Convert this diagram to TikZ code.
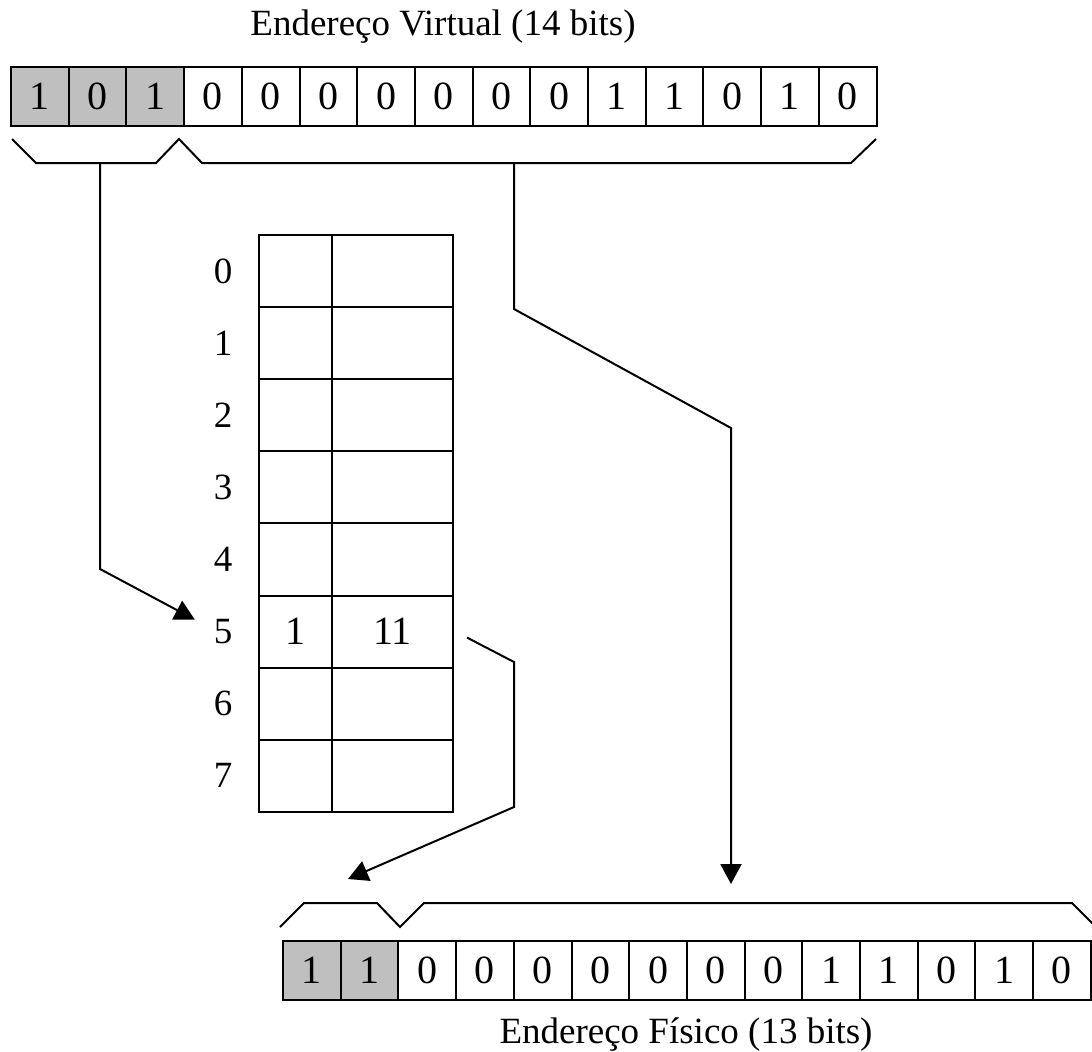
\documentclass[tikz,border=0pt]{standalone}
\usepackage{fontspec}
\setmainfont{Liberation Serif}
\usetikzlibrary{arrows.meta, calc}

\begin{document}
\begin{tikzpicture}[
    x=0.5pt, y=-0.5pt,
    line width=1pt,
    bit/.style={draw, minimum width=28.85pt, minimum height=29.5pt, inner sep=0pt, font=\fontsize{20}{24}\selectfont},
    index/.style={fill=black!25},
    entry/.style={draw, minimum height=36.05pt, inner sep=0pt, font=\fontsize{20}{24}\selectfont},
    rowlabel/.style={inner sep=3pt, font=\fontsize{18.5}{22}\selectfont},
    caption/.style={anchor=base, font=\fontsize{18.5}{22}\selectfont},
    brace/.style={line width=1pt},
    link/.style={line width=1pt, -{Triangle[length=10pt, width=10.5pt]}}
]
\useasboundingbox (0,0) rectangle (1092,1051);

% Endereço virtual (página em cinza)
\node[caption] (vtitle) at (443,35) {Endereço Virtual (14 bits)};
\foreach \b [count=\i] in {1,0,1}
    \node[bit, index] (v\i) at ({11+57.7*(\i-0.5)}, 96.5) {\b};
\foreach \b [count=\i from 4] in {0,0,0,0,0,0,0,1,1,0,1,0}
    \node[bit] (v\i) at ({11+57.7*(\i-0.5)}, 96.5) {\b};

% Chaveta por baixo do endereço virtual
\draw[brace] (12,139) -- (36,163) -- (156,163) -- (179,139) -- (202,163) -- (851,163) -- (876,139);
\coordinate (vpn) at (100,163);
\coordinate (off) at (514,163);

% Tabela de páginas
\foreach \k in {0,1,2,3,4,6,7} {
    \node[rowlabel] (lbl\k) at (223, {235+72.1*(\k+0.5)}) {\k};
    \node[entry, minimum width=36.5pt] (p\k) at (295.5, {235+72.1*(\k+0.5)}) {};
    \node[entry, minimum width=60.5pt] (f\k) at (392.5, {235+72.1*(\k+0.5)}) {};
}
\node[rowlabel] (lbl5) at (223, {235+72.1*5.5}) {5};
\node[entry, minimum width=36.5pt] (p5) at (295.5, {235+72.1*5.5}) {1};
\node[entry, minimum width=60.5pt] (f5) at (392.5, {235+72.1*5.5}) {11};

% Endereço físico
\foreach \b [count=\i] in {1,1}
    \node[bit, index] (r\i) at ({283+57.7*(\i-0.5)}, 970) {\b};
\foreach \b [count=\i from 3] in {0,0,0,0,0,0,0,1,1,0,1,0}
    \node[bit] (r\i) at ({283+57.7*(\i-0.5)}, 970) {\b};
\node[caption] (ptitle) at (686,1043) {Endereço Físico (13 bits)};

% Chaveta por cima do endereço físico
\draw[brace] (280,927) -- (304,903) -- (377,903) -- (400,927) -- (424,903) -- (1072,903) -- (1096,927);
\coordinate (pfn) at (348,879);
\coordinate (poff) at (731,884);

% Ligações
\draw[link] (vpn) -- (100,569) -- ($(lbl5.west)+(-12,-12)$);
\draw[link] (off) -- (514,309) -- (731,428) -- (poff);
\draw[link] ($(f5.east)+(13,6)$) -- (514,662) -- (514,807) -- (pfn);

\end{tikzpicture}
\end{document}
